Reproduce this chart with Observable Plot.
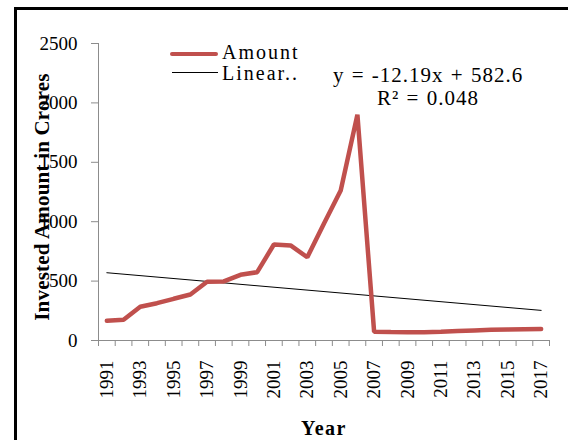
<!DOCTYPE html>
<html>
<head>
<meta charset="utf-8">
<script src="https://cdn.jsdelivr.net/npm/d3@7"></script>
<script src="https://cdn.jsdelivr.net/npm/@observablehq/plot@0.6"></script>
<style>
  html, body { margin: 0; padding: 0; background: #fff; }
  #wrap { position: relative; width: 568px; height: 440px; overflow: hidden; font-family: "Liberation Serif", "Times New Roman", serif; }
  #frame { position: absolute; left: 14px; top: 7px; width: 570px; height: 450px; border: 3px solid #000; box-sizing: border-box; pointer-events: none; }
  #chart { position: absolute; left: 0; top: 0; }
  .txt { position: absolute; white-space: nowrap; color: #000; font-family: "Liberation Serif", "Times New Roman", serif; }
  .legline { position: absolute; }
</style>
</head>
<body>
<div id="wrap">
  <div id="chart"></div>
  <div id="frame"></div>
</div>
<script>
// ---- data ----
const years = [1991,1992,1993,1994,1995,1996,1997,1998,1999,2000,2001,2002,2003,2004,2005,2006,2007,2008,2009,2010,2011,2012,2013,2014,2015,2016,2017];
const amounts = [166,174,284,314,351,387,494,497,553,575,808,800,701,985,1263,1900,74,71,70,70,74,80,85,90,93,95,97];
const trendYears = [1991, 2017];
const trendValues = [570.4, 253.5];   // y = -12.19x + 582.6 at x = 1 and x = 27
const yTicks = [0, 500, 1000, 1500, 2000, 2500];
const xTickLabels = [1991,1993,1995,1997,1999,2001,2003,2005,2007,2009,2011,2013,2015,2017];
const seriesName = "Amount";
const trendName = "Linear..";
const equationText = "y = -12.19x + 582.6";
const r2Text = "R\u00B2 = 0.048";
const yTitle = "Invested Amount in Crores";
const xTitle = "Year";

const red = "#C0504D";
const axisGrey = "#8c8c8c";

const amountData = years.map((y, i) => ({year: y, amount: amounts[i]}));
const trendData = trendYears.map((y, i) => ({year: y, value: trendValues[i]}));
const edges = [years[0] - 0.5, ...years.map(y => y + 0.5)];

const chart = Plot.plot({
  width: 568,
  height: 440,
  marginLeft: 98,
  marginRight: 19,
  marginTop: 43,
  marginBottom: 100,
  style: {fontFamily: "'Liberation Serif', 'Times New Roman', serif", background: "transparent", color: "#000"},
  x: {type: "linear", domain: [edges[0], edges[edges.length - 1]]},
  y: {domain: [0, 2500]},
  marks: [
    Plot.axisY({ticks: yTicks, tickSize: 7, tickPadding: 14, stroke: axisGrey, fontSize: 19, label: null,
      tickFormat: d => String(d), style: {letterSpacing: "2.5px"}}),
    Plot.axisX({ticks: edges, tickSize: 6, stroke: axisGrey, tickFormat: () => "", label: null}),
    Plot.axisX({ticks: xTickLabels, tickSize: 0, tickPadding: 20, tickRotate: -90, fontSize: 19, label: null,
      tickFormat: d => String(d), style: {letterSpacing: "0.8px"}}),
    Plot.ruleX([edges[0]], {stroke: axisGrey, strokeWidth: 1}),
    Plot.ruleY([0], {stroke: axisGrey, strokeWidth: 1}),
    Plot.line(trendData, {x: "year", y: "value", stroke: "#000", strokeWidth: 1}),
    Plot.line(amountData, {x: "year", y: "amount", stroke: red, strokeWidth: 4.5, strokeLinejoin: "miter"})
  ]
});
document.getElementById("chart").appendChild(chart);

// ---- overlays (legend, equation, titles) ----
const wrap = document.getElementById("wrap");
function addText(text, css) {
  const d = document.createElement("div");
  d.className = "txt";
  d.textContent = text;
  Object.assign(d.style, css);
  wrap.appendChild(d);
  return d;
}
function addLine(css) {
  const d = document.createElement("div");
  d.className = "legline";
  Object.assign(d.style, css);
  wrap.appendChild(d);
}
addLine({left: "170px", top: "52px", width: "48px", height: "4px", background: red, borderRadius: "2px"});
addText(seriesName, {left: "222px", top: "43px", fontSize: "20px", letterSpacing: "2px", lineHeight: "18px"});
addLine({left: "172px", top: "72px", width: "46px", height: "1px", background: "#000"});
addText(trendName, {left: "222px", top: "64px", fontSize: "20px", letterSpacing: "2px", lineHeight: "18px"});
addText(equationText, {left: "333px", top: "65px", fontSize: "21px", letterSpacing: "1px", wordSpacing: "1px", lineHeight: "20px"});
addText(r2Text, {left: "377px", top: "88px", fontSize: "21px", letterSpacing: "1px", wordSpacing: "1px", lineHeight: "20px"});
addText(xTitle, {left: "301px", top: "416px", fontSize: "20px", fontWeight: "bold", letterSpacing: "1.5px", lineHeight: "24px"});
addText(yTitle, {left: "42px", top: "197px", fontSize: "21px", fontWeight: "bold", letterSpacing: "0.2px", lineHeight: "24px",
  transform: "translate(-50%, -50%) rotate(-90deg)"});
</script>
</body>
</html>
